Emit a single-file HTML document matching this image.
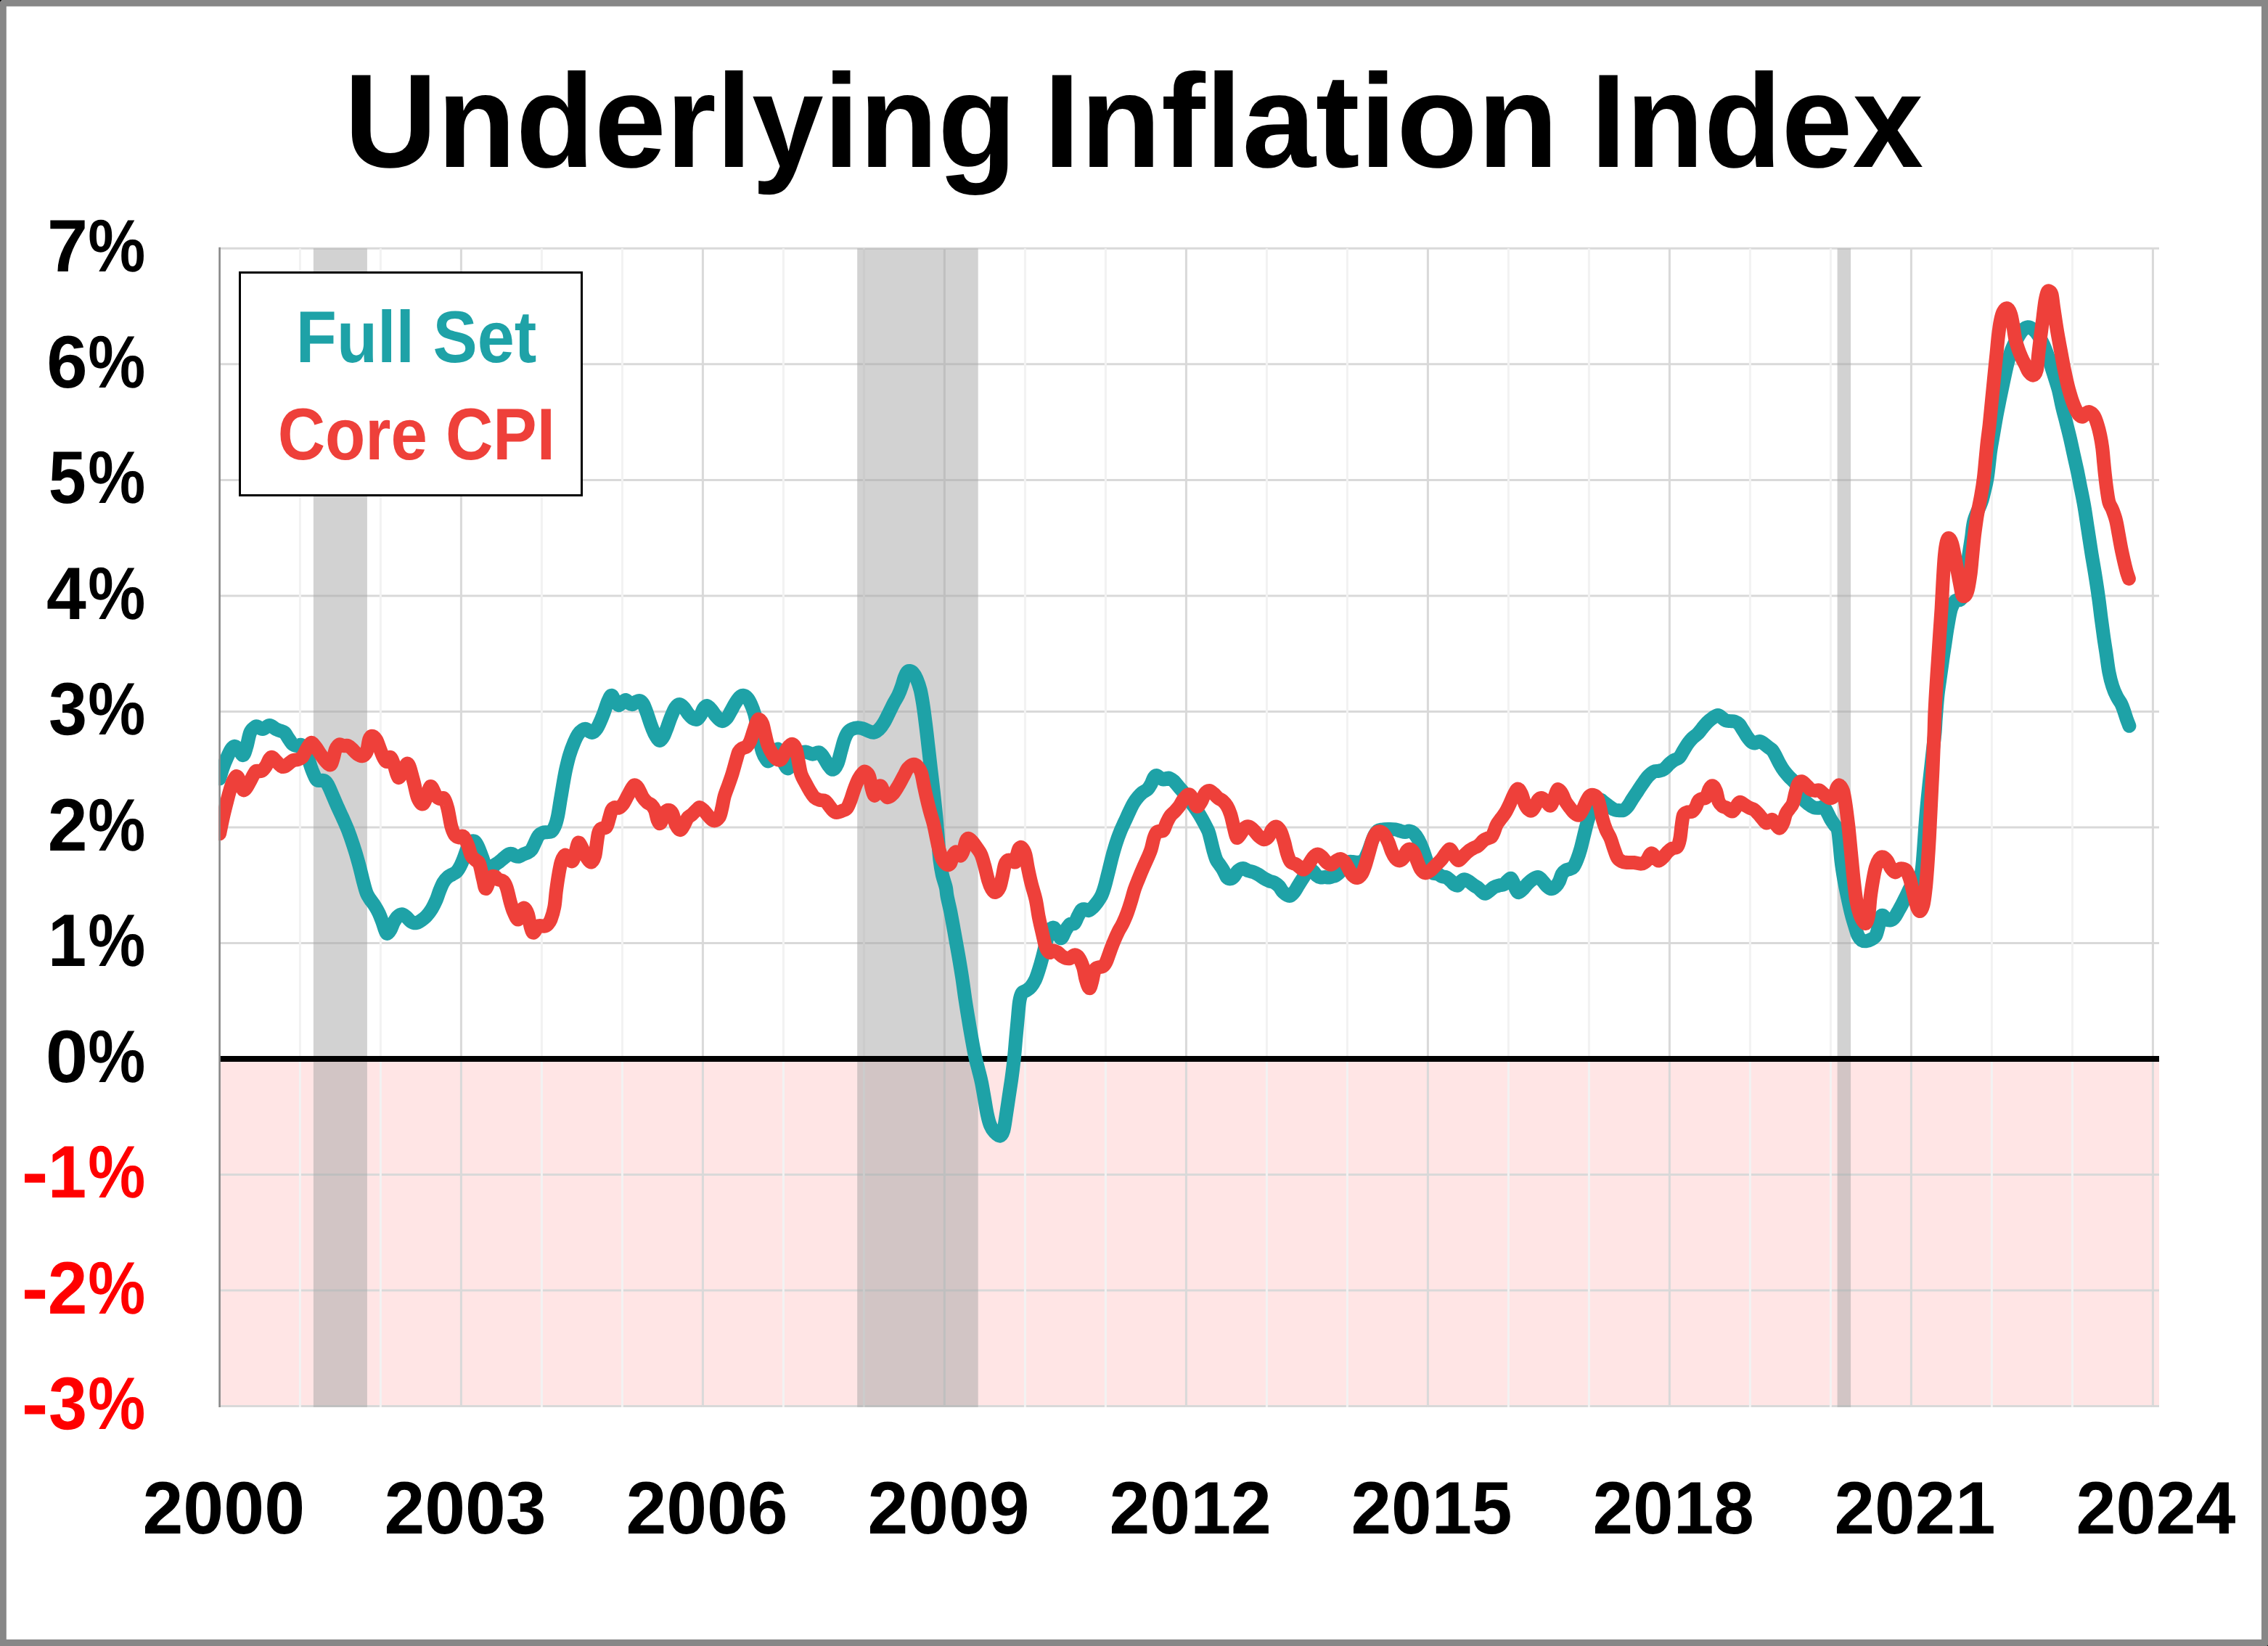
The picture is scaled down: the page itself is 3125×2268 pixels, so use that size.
<!DOCTYPE html>
<html><head><meta charset="utf-8"><title>Underlying Inflation Index</title>
<style>html,body{margin:0;padding:0;background:#fff}body{width:3125px;height:2268px;overflow:hidden;position:relative}svg{position:absolute;left:0;top:0;display:block}text{font-family:"Liberation Sans",sans-serif;font-weight:bold;font-kerning:none;text-rendering:geometricPrecision}</style></head><body>
<svg width="3125" height="2268" viewBox="0 0 3125 2268">
<rect x="0" y="0" width="3125" height="2268" fill="#878787"/>
<rect x="8.8" y="8.8" width="3107.2" height="2250.2" fill="#fff"/>
<path d="M0 0h2.4L0 2.4zM3125 2268h-1.4L3125 2266.6z" fill="#000"/>
<rect x="302.4" y="1458.9" width="2672.6" height="478.5" fill="#FFE5E5"/>
<g stroke-width="3" fill="none"><line x1="302.4" y1="1937.4" x2="2975.0" y2="1937.4" stroke="#D9D9D9"/><line x1="302.4" y1="1777.9" x2="2975.0" y2="1777.9" stroke="#D9D9D9"/><line x1="302.4" y1="1618.4" x2="2975.0" y2="1618.4" stroke="#D9D9D9"/><line x1="302.4" y1="1299.4" x2="2975.0" y2="1299.4" stroke="#D9D9D9"/><line x1="302.4" y1="1139.9" x2="2975.0" y2="1139.9" stroke="#D9D9D9"/><line x1="302.4" y1="980.4" x2="2975.0" y2="980.4" stroke="#D9D9D9"/><line x1="302.4" y1="820.9" x2="2975.0" y2="820.9" stroke="#D9D9D9"/><line x1="302.4" y1="661.4" x2="2975.0" y2="661.4" stroke="#D9D9D9"/><line x1="302.4" y1="501.8" x2="2975.0" y2="501.8" stroke="#D9D9D9"/><line x1="302.4" y1="342.3" x2="2975.0" y2="342.3" stroke="#D9D9D9"/><line x1="413.4" y1="342.3" x2="413.4" y2="1938.9" stroke="#F2F2F2"/><line x1="524.4" y1="342.3" x2="524.4" y2="1938.9" stroke="#F2F2F2"/><line x1="635.4" y1="342.3" x2="635.4" y2="1938.9" stroke="#D9D9D9"/><line x1="746.4" y1="342.3" x2="746.4" y2="1938.9" stroke="#F2F2F2"/><line x1="857.4" y1="342.3" x2="857.4" y2="1938.9" stroke="#F2F2F2"/><line x1="968.4" y1="342.3" x2="968.4" y2="1938.9" stroke="#D9D9D9"/><line x1="1079.4" y1="342.3" x2="1079.4" y2="1938.9" stroke="#F2F2F2"/><line x1="1190.4" y1="342.3" x2="1190.4" y2="1938.9" stroke="#F2F2F2"/><line x1="1301.4" y1="342.3" x2="1301.4" y2="1938.9" stroke="#D9D9D9"/><line x1="1412.4" y1="342.3" x2="1412.4" y2="1938.9" stroke="#F2F2F2"/><line x1="1523.4" y1="342.3" x2="1523.4" y2="1938.9" stroke="#F2F2F2"/><line x1="1634.4" y1="342.3" x2="1634.4" y2="1938.9" stroke="#D9D9D9"/><line x1="1745.4" y1="342.3" x2="1745.4" y2="1938.9" stroke="#F2F2F2"/><line x1="1856.4" y1="342.3" x2="1856.4" y2="1938.9" stroke="#F2F2F2"/><line x1="1967.4" y1="342.3" x2="1967.4" y2="1938.9" stroke="#D9D9D9"/><line x1="2078.4" y1="342.3" x2="2078.4" y2="1938.9" stroke="#F2F2F2"/><line x1="2189.4" y1="342.3" x2="2189.4" y2="1938.9" stroke="#F2F2F2"/><line x1="2300.4" y1="342.3" x2="2300.4" y2="1938.9" stroke="#D9D9D9"/><line x1="2411.4" y1="342.3" x2="2411.4" y2="1938.9" stroke="#F2F2F2"/><line x1="2522.4" y1="342.3" x2="2522.4" y2="1938.9" stroke="#F2F2F2"/><line x1="2633.4" y1="342.3" x2="2633.4" y2="1938.9" stroke="#D9D9D9"/><line x1="2744.4" y1="342.3" x2="2744.4" y2="1938.9" stroke="#F2F2F2"/><line x1="2855.4" y1="342.3" x2="2855.4" y2="1938.9" stroke="#F2F2F2"/><line x1="2966.4" y1="342.3" x2="2966.4" y2="1938.9" stroke="#D9D9D9"/></g>
<rect x="431.9" y="342.3" width="74.0" height="1596.6" fill="#A6A6A6" fill-opacity="0.5"/>
<rect x="1181.2" y="342.3" width="166.5" height="1596.6" fill="#A6A6A6" fill-opacity="0.5"/>
<rect x="2531.6" y="342.3" width="18.5" height="1596.6" fill="#A6A6A6" fill-opacity="0.5"/>
<rect x="303" y="1455" width="2672.0" height="8" fill="#000"/>
<clipPath id="pc"><rect x="301.2" y="322.3" width="2712.6" height="1635.1"/></clipPath>
<g clip-path="url(#pc)" fill="none" stroke-width="19.0" stroke-linecap="round" stroke-linejoin="round">
<path d="M302.6 1072.8C303.4 1070.1 305.7 1061.8 307.4 1057.0C309.1 1052.2 311.0 1047.9 312.8 1043.9C314.6 1039.8 316.6 1035.3 318.3 1032.7C320.1 1030.1 321.5 1028.4 323.3 1028.3C325.1 1028.3 326.9 1030.4 328.9 1032.4C330.8 1034.5 333.1 1041.1 335.0 1040.5C336.8 1039.9 338.2 1034.0 339.8 1028.8C341.4 1023.6 342.9 1013.8 344.7 1009.4C346.5 1004.9 349.1 1003.5 350.8 1002.1C352.4 1000.6 352.6 1000.4 354.4 1000.9C356.2 1001.3 358.9 1004.7 361.7 1004.5C364.5 1004.3 368.4 999.6 371.4 999.6C374.4 999.6 377.5 1003.3 379.9 1004.5C382.3 1005.7 384.0 1006.1 386.0 1006.9C388.0 1007.7 390.2 1007.7 392.1 1009.4C393.9 1011.0 395.1 1014.0 396.9 1016.6C398.7 1019.3 401.0 1023.3 403.0 1025.2C405.0 1027.0 407.1 1027.4 409.1 1027.6C411.1 1027.8 413.3 1025.6 415.2 1026.4C417.0 1027.2 418.4 1029.2 420.0 1032.4C421.6 1035.7 423.3 1041.2 424.9 1045.8C426.5 1050.5 427.9 1055.7 429.7 1060.4C431.6 1065.0 434.0 1071.2 435.8 1073.8C437.6 1076.3 438.8 1075.2 440.7 1075.5C442.5 1075.7 444.9 1074.5 446.7 1075.5C448.6 1076.4 449.8 1077.9 451.6 1081.0C453.4 1084.2 455.5 1089.3 457.7 1094.4C459.9 1099.5 462.5 1106.0 465.0 1111.4C467.4 1116.9 469.8 1121.7 472.3 1127.2C474.7 1132.7 477.1 1138.0 479.6 1144.2C482.0 1150.5 484.4 1157.4 486.8 1164.9C489.3 1172.4 491.9 1181.1 494.1 1189.2C496.4 1197.3 498.4 1206.6 500.2 1213.5C502.0 1220.4 503.4 1226.2 505.1 1230.5C506.7 1234.8 508.1 1236.2 509.9 1239.0C511.7 1241.8 514.0 1244.3 516.0 1247.5C518.0 1250.7 520.3 1254.6 522.1 1258.4C523.9 1262.3 525.5 1266.7 526.9 1270.6C528.4 1274.4 529.4 1278.9 530.6 1281.5C531.7 1284.2 532.5 1286.4 533.7 1286.4C535.0 1286.4 536.4 1284.2 537.9 1281.5C539.4 1278.9 541.1 1273.6 542.7 1270.6C544.4 1267.6 545.8 1265.1 547.6 1263.3C549.4 1261.5 551.6 1259.7 553.7 1259.7C555.7 1259.7 557.7 1261.7 559.7 1263.3C561.8 1264.9 563.6 1268.0 565.8 1269.4C568.0 1270.8 570.7 1272.0 573.1 1271.8C575.5 1271.6 578.0 1269.8 580.4 1268.2C582.8 1266.5 585.3 1264.7 587.7 1262.1C590.1 1259.5 592.8 1256.0 595.0 1252.4C597.2 1248.7 599.2 1244.5 601.1 1240.2C602.9 1236.0 604.3 1230.9 605.9 1226.9C607.5 1222.8 609.0 1219.0 610.8 1215.9C612.6 1212.9 614.8 1210.4 616.9 1208.6C618.9 1206.8 620.9 1206.2 622.9 1205.0C625.0 1203.8 627.2 1203.2 629.0 1201.3C630.8 1199.5 632.2 1197.1 633.9 1194.0C635.5 1191.0 637.1 1187.2 638.7 1183.1C640.3 1179.1 642.0 1173.4 643.6 1169.7C645.2 1166.1 647.0 1163.1 648.4 1161.2C649.9 1159.4 650.9 1158.8 652.1 1158.8C653.3 1158.8 654.3 1159.2 655.7 1161.2C657.2 1163.3 659.0 1167.1 660.6 1171.0C662.2 1174.8 664.0 1180.1 665.5 1184.3C666.9 1188.6 667.9 1193.8 669.1 1196.5C670.3 1199.1 671.1 1200.1 672.7 1200.1C674.4 1200.1 677.6 1197.7 678.8 1196.5C680.0 1195.3 678.6 1194.2 680.0 1192.8C681.4 1191.4 684.9 1189.8 687.3 1188.0C689.7 1186.1 692.4 1183.7 694.6 1181.9C696.8 1180.1 698.8 1177.9 700.7 1177.0C702.5 1176.1 703.9 1176.1 705.5 1176.5C707.1 1177.0 708.8 1178.9 710.4 1179.5C712.0 1180.1 713.4 1180.6 715.2 1180.2C717.1 1179.8 719.3 1178.0 721.3 1177.0C723.3 1176.1 725.6 1175.6 727.4 1174.6C729.2 1173.6 730.6 1173.2 732.2 1171.0C733.9 1168.7 735.5 1164.5 737.1 1161.2C738.7 1158.0 740.1 1153.8 742.0 1151.5C743.8 1149.2 746.0 1148.2 748.0 1147.4C750.1 1146.6 752.1 1147.0 754.1 1146.7C756.1 1146.3 758.4 1147.1 760.2 1145.4C762.0 1143.8 763.6 1140.6 765.1 1136.9C766.5 1133.3 767.5 1129.4 768.7 1123.6C769.9 1117.7 771.1 1109.0 772.3 1101.7C773.6 1094.4 774.8 1086.7 776.0 1079.8C777.2 1072.9 778.2 1066.9 779.6 1060.4C781.1 1053.9 782.7 1047.0 784.5 1040.9C786.3 1034.9 788.5 1028.8 790.6 1023.9C792.6 1019.1 794.6 1014.8 796.6 1011.8C798.7 1008.7 800.9 1006.9 802.7 1005.7C804.5 1004.5 806.0 1004.1 807.6 1004.5C809.2 1004.9 811.0 1007.3 812.4 1008.1C813.9 1009.0 814.7 1009.8 816.1 1009.4C817.5 1009.0 819.3 1007.7 820.9 1005.7C822.6 1003.7 824.0 1001.1 825.8 997.2C827.6 993.4 829.9 987.9 831.9 982.6C833.9 977.4 836.1 969.7 838.0 965.6C839.8 961.6 841.2 958.1 842.8 958.3C844.4 958.5 846.1 964.6 847.7 966.8C849.3 969.1 850.9 971.5 852.5 971.7C854.2 971.9 855.8 969.3 857.4 968.0C859.0 966.8 860.6 964.2 862.3 964.4C863.9 964.6 865.5 968.2 867.1 969.3C868.7 970.3 870.4 970.9 872.0 970.5C873.6 970.1 875.2 967.6 876.8 966.8C878.5 966.0 880.1 965.0 881.7 965.6C883.3 966.2 884.9 967.6 886.6 970.5C888.2 973.3 889.8 978.2 891.4 982.6C893.0 987.1 894.7 992.8 896.3 997.2C897.9 1001.7 899.5 1005.9 901.1 1009.4C902.8 1012.8 904.6 1016.0 906.0 1017.9C907.4 1019.7 908.2 1020.9 909.6 1020.3C911.1 1019.7 912.9 1017.3 914.5 1014.2C916.1 1011.2 917.7 1006.3 919.4 1002.1C921.0 997.8 922.4 993.2 924.2 988.7C926.1 984.2 928.3 978.4 930.3 975.3C932.3 972.3 934.4 970.5 936.4 970.5C938.4 970.5 940.4 973.1 942.5 975.3C944.5 977.6 946.5 981.4 948.5 983.8C950.6 986.3 952.6 988.7 954.6 989.9C956.6 991.1 958.9 991.9 960.7 991.1C962.5 990.3 964.1 987.5 965.5 985.1C967.0 982.6 967.8 978.7 969.2 976.5C970.6 974.4 972.2 972.2 974.0 972.4C975.9 972.6 978.1 975.5 980.1 977.8C982.1 980.1 984.2 983.8 986.2 986.3C988.2 988.7 990.7 991.1 992.3 992.3C993.9 993.6 994.3 994.2 995.9 993.6C997.5 993.0 1000.2 990.9 1002.0 988.7C1003.8 986.5 1005.0 983.4 1006.9 980.2C1008.7 977.0 1010.9 972.5 1012.9 969.3C1015.0 966.0 1017.2 962.6 1019.0 960.8C1020.8 958.9 1022.0 958.1 1023.9 958.3C1025.7 958.5 1028.1 959.9 1029.9 962.0C1031.8 964.0 1033.2 966.8 1034.8 970.5C1036.4 974.1 1038.2 978.6 1039.7 983.8C1041.1 989.1 1042.1 995.8 1043.3 1002.1C1044.5 1008.3 1045.7 1015.8 1047.0 1021.5C1048.2 1027.2 1049.2 1032.0 1050.6 1036.1C1052.0 1040.1 1054.0 1043.7 1055.5 1045.8C1056.9 1047.9 1057.5 1049.3 1059.1 1048.7C1060.7 1048.1 1063.4 1044.5 1065.2 1042.2C1067.0 1039.9 1068.8 1036.4 1070.0 1034.9C1071.2 1033.4 1071.0 1031.0 1072.4 1033.1C1073.8 1035.2 1076.5 1043.4 1078.5 1047.7C1080.5 1051.9 1082.6 1057.6 1084.6 1058.6C1086.6 1059.6 1088.6 1056.4 1090.7 1053.8C1092.7 1051.1 1094.9 1045.5 1096.7 1042.8C1098.6 1040.2 1099.4 1039.1 1101.6 1038.0C1103.8 1036.8 1107.1 1035.8 1110.1 1036.0C1113.1 1036.2 1116.8 1039.1 1119.8 1039.2C1122.9 1039.3 1125.9 1036.1 1128.3 1036.7C1130.8 1037.4 1132.2 1039.8 1134.4 1042.8C1136.6 1045.9 1139.5 1052.1 1141.7 1055.0C1143.9 1057.9 1145.7 1060.7 1147.8 1060.3C1149.8 1059.9 1152.0 1056.7 1153.8 1052.5C1155.7 1048.4 1157.1 1041.2 1158.7 1035.5C1160.3 1029.9 1161.9 1023.0 1163.6 1018.5C1165.2 1014.1 1166.6 1011.1 1168.4 1008.8C1170.2 1006.4 1172.3 1005.4 1174.5 1004.4C1176.7 1003.4 1179.4 1002.8 1181.8 1002.7C1184.2 1002.6 1186.6 1003.2 1189.1 1003.9C1191.5 1004.7 1193.9 1006.2 1196.4 1007.1C1198.8 1008.0 1201.2 1009.6 1203.7 1009.3C1206.1 1009.0 1208.5 1007.5 1210.9 1005.2C1213.4 1002.8 1215.8 999.5 1218.2 995.4C1220.7 991.4 1223.3 985.3 1225.5 980.9C1227.8 976.4 1229.6 972.5 1231.6 968.7C1233.6 964.9 1235.9 961.6 1237.7 957.8C1239.5 953.9 1241.1 949.7 1242.5 945.6C1244.0 941.6 1245.0 936.7 1246.2 933.5C1247.4 930.2 1248.6 927.7 1249.8 926.2C1251.0 924.7 1252.1 924.3 1253.5 924.5C1254.9 924.7 1256.7 925.5 1258.3 927.4C1260.0 929.3 1261.6 932.0 1263.2 935.9C1264.8 939.7 1266.6 944.8 1268.1 950.5C1269.5 956.1 1270.5 962.2 1271.7 969.9C1272.9 977.6 1274.1 986.9 1275.3 996.6C1276.6 1006.4 1277.8 1017.7 1279.0 1028.2C1280.2 1038.8 1281.4 1049.3 1282.6 1059.8C1283.9 1070.4 1285.1 1080.5 1286.3 1091.4C1287.5 1102.4 1288.9 1114.9 1289.9 1125.4C1290.9 1136.0 1291.5 1144.9 1292.4 1154.6C1293.2 1164.3 1293.8 1175.3 1294.8 1183.8C1295.8 1192.3 1297.0 1199.2 1298.4 1205.6C1299.9 1212.1 1302.2 1217.8 1303.3 1222.6C1304.4 1227.5 1303.9 1228.9 1305.0 1234.6C1306.0 1240.2 1308.2 1248.4 1309.8 1256.5C1311.4 1264.6 1312.9 1273.1 1314.7 1283.2C1316.5 1293.3 1318.9 1306.7 1320.8 1317.2C1322.6 1327.7 1324.1 1336.6 1325.6 1346.4C1327.1 1356.1 1328.3 1365.8 1329.7 1375.5C1331.2 1385.2 1332.8 1395.4 1334.4 1404.7C1335.9 1414.0 1337.4 1422.9 1339.0 1431.4C1340.5 1439.9 1342.0 1448.4 1343.6 1455.7C1345.2 1463.0 1347.0 1469.1 1348.5 1475.2C1350.0 1481.2 1351.3 1485.7 1352.6 1492.2C1353.9 1498.7 1355.2 1506.8 1356.5 1514.0C1357.8 1521.3 1359.0 1529.8 1360.4 1535.9C1361.7 1542.0 1362.8 1546.4 1364.5 1550.5C1366.2 1554.5 1368.3 1557.8 1370.6 1560.2C1372.8 1562.6 1375.8 1565.5 1377.9 1565.1C1379.9 1564.7 1381.3 1562.6 1382.7 1557.8C1384.1 1552.9 1385.2 1543.6 1386.4 1535.9C1387.6 1528.2 1388.8 1519.7 1390.0 1511.6C1391.2 1503.5 1392.4 1496.2 1393.7 1487.3C1394.9 1478.4 1396.3 1467.5 1397.3 1458.2C1398.3 1448.8 1398.9 1440.3 1399.7 1431.4C1400.5 1422.5 1401.4 1413.2 1402.2 1404.7C1403.0 1396.2 1403.6 1386.5 1404.6 1380.4C1405.6 1374.3 1406.6 1370.9 1408.2 1368.2C1409.9 1365.6 1412.3 1366.0 1414.3 1364.6C1416.3 1363.2 1418.4 1362.2 1420.4 1359.7C1422.4 1357.3 1424.6 1353.9 1426.5 1350.0C1428.3 1346.2 1429.7 1341.7 1431.3 1336.6C1432.9 1331.6 1434.6 1325.7 1436.2 1319.6C1437.8 1313.6 1439.6 1305.9 1441.0 1300.2C1442.5 1294.5 1443.5 1289.1 1444.7 1285.6C1445.9 1282.2 1447.1 1280.8 1448.3 1279.5C1449.6 1278.3 1450.6 1277.5 1452.0 1278.3C1453.4 1279.1 1455.1 1282.0 1456.8 1284.4C1458.5 1286.8 1460.3 1293.2 1462.2 1292.8C1464.0 1292.4 1466.2 1285.1 1468.2 1281.9C1470.3 1278.7 1472.3 1275.0 1474.3 1273.4C1476.3 1271.8 1478.6 1274.0 1480.4 1272.2C1482.2 1270.4 1483.6 1265.5 1485.2 1262.5C1486.9 1259.4 1488.7 1255.6 1490.1 1253.9C1491.5 1252.3 1492.1 1252.6 1493.7 1252.7C1495.4 1252.9 1497.8 1255.1 1499.8 1254.7C1501.8 1254.3 1503.9 1252.2 1505.9 1250.3C1507.9 1248.4 1509.9 1245.8 1512.0 1243.0C1514.0 1240.2 1516.2 1237.3 1518.0 1233.3C1519.9 1229.2 1521.3 1224.4 1522.9 1218.7C1524.5 1213.0 1526.1 1205.8 1527.8 1199.3C1529.4 1192.8 1531.0 1185.9 1532.6 1179.8C1534.2 1173.8 1535.7 1168.5 1537.5 1162.8C1539.3 1157.1 1541.5 1150.9 1543.6 1145.8C1545.6 1140.7 1547.6 1136.9 1549.6 1132.4C1551.7 1128.0 1553.7 1123.3 1555.7 1119.1C1557.7 1114.8 1559.8 1110.4 1561.8 1106.9C1563.8 1103.5 1565.8 1100.9 1567.9 1098.4C1569.9 1096.0 1571.7 1094.2 1573.9 1092.3C1576.2 1090.5 1579.2 1089.5 1581.2 1087.5C1583.3 1085.5 1584.7 1082.8 1586.1 1080.2C1587.5 1077.6 1588.5 1073.6 1589.7 1071.7C1590.9 1069.7 1592.0 1068.5 1593.4 1068.5C1594.8 1068.5 1596.6 1070.8 1598.2 1071.7C1599.9 1072.6 1601.5 1074.0 1603.1 1074.1C1604.7 1074.2 1606.5 1072.7 1608.0 1072.4C1609.4 1072.1 1610.0 1071.7 1611.6 1072.4C1613.2 1073.1 1615.7 1074.6 1617.7 1076.5C1619.7 1078.5 1621.5 1081.2 1623.8 1083.8C1626.0 1086.5 1628.6 1089.3 1631.0 1092.3C1633.5 1095.4 1635.9 1098.8 1638.3 1102.1C1640.8 1105.3 1643.2 1108.3 1645.6 1111.8C1648.1 1115.2 1650.7 1119.1 1652.9 1122.7C1655.1 1126.4 1657.0 1129.8 1659.0 1133.7C1661.0 1137.5 1663.4 1141.6 1665.1 1145.8C1666.7 1150.1 1667.5 1154.5 1668.7 1159.2C1669.9 1163.8 1671.1 1169.5 1672.4 1173.8C1673.6 1178.0 1674.6 1181.7 1676.0 1184.7C1677.4 1187.7 1679.2 1189.6 1680.9 1192.0C1682.5 1194.4 1684.1 1196.4 1685.7 1199.3C1687.3 1202.1 1689.0 1207.0 1690.6 1209.0C1692.2 1210.9 1693.8 1211.1 1695.4 1210.9C1697.1 1210.7 1698.7 1209.5 1700.3 1207.8C1701.9 1206.0 1703.1 1202.4 1705.2 1200.5C1707.2 1198.6 1710.0 1196.5 1712.5 1196.4C1714.9 1196.2 1717.3 1198.9 1719.7 1199.8C1722.2 1200.6 1724.6 1200.8 1727.0 1201.7C1729.5 1202.6 1731.9 1203.9 1734.3 1205.3C1736.8 1206.8 1739.2 1208.8 1741.6 1210.2C1744.0 1211.6 1746.5 1212.8 1748.9 1213.9C1751.3 1214.9 1754.0 1215.1 1756.2 1216.3C1758.4 1217.5 1760.2 1218.9 1762.3 1221.1C1764.3 1223.4 1765.9 1227.4 1768.3 1229.6C1770.8 1231.9 1774.4 1234.5 1776.9 1234.5C1779.3 1234.5 1780.9 1232.1 1782.9 1229.6C1785.0 1227.2 1787.0 1223.2 1789.0 1219.9C1791.0 1216.7 1793.1 1213.2 1795.1 1210.2C1797.1 1207.2 1799.1 1203.6 1801.2 1201.7C1803.2 1199.8 1805.0 1198.0 1807.2 1198.8C1809.5 1199.6 1812.5 1204.9 1814.5 1206.6C1816.5 1208.3 1817.6 1208.7 1819.4 1209.0C1821.2 1209.3 1823.4 1208.5 1825.5 1208.5C1827.5 1208.5 1829.3 1209.3 1831.5 1209.0C1833.8 1208.7 1837.4 1207.0 1838.8 1206.6C1840.2 1206.2 1838.8 1207.4 1840.0 1206.6C1841.2 1205.8 1844.1 1204.1 1846.1 1201.7C1848.1 1199.3 1850.1 1194.3 1852.2 1192.0C1854.2 1189.6 1856.2 1188.3 1858.2 1187.6C1860.3 1186.9 1862.1 1187.5 1864.3 1187.6C1866.5 1187.7 1869.2 1188.3 1871.6 1188.1C1874.0 1187.9 1876.4 1189.0 1878.6 1186.6C1880.9 1184.3 1883.1 1178.3 1885.0 1174.0C1886.8 1169.7 1888.3 1164.8 1889.8 1160.9C1891.3 1157.0 1892.5 1153.3 1893.9 1150.7C1895.4 1148.0 1896.6 1146.1 1898.3 1144.8C1900.0 1143.6 1901.7 1143.5 1904.2 1143.1C1906.6 1142.8 1909.8 1142.7 1912.9 1142.6C1916.0 1142.6 1919.8 1142.5 1922.6 1142.9C1925.5 1143.3 1927.7 1144.5 1929.9 1145.1C1932.1 1145.7 1934.0 1146.5 1936.0 1146.5C1938.0 1146.5 1940.0 1144.8 1942.1 1145.1C1944.1 1145.4 1946.1 1146.3 1948.1 1148.2C1950.2 1150.2 1952.2 1153.1 1954.2 1156.7C1956.2 1160.4 1958.5 1165.5 1960.3 1170.1C1962.1 1174.8 1963.5 1180.2 1965.2 1184.7C1966.8 1189.1 1968.6 1193.8 1970.0 1196.8C1971.4 1199.9 1971.8 1201.7 1973.7 1202.9C1975.5 1204.1 1978.7 1203.3 1980.9 1204.1C1983.2 1204.9 1985.0 1207.0 1987.0 1207.8C1989.0 1208.6 1991.1 1208.0 1993.1 1209.0C1995.1 1210.0 1997.4 1212.2 1999.2 1213.9C2001.0 1215.5 2002.4 1217.7 2004.0 1218.7C2005.7 1219.7 2007.3 1220.7 2008.9 1219.9C2010.5 1219.1 2012.1 1215.2 2013.8 1213.9C2015.4 1212.5 2016.8 1211.7 2018.6 1211.9C2020.4 1212.1 2022.7 1213.7 2024.7 1215.1C2026.7 1216.4 2028.7 1218.5 2030.8 1219.9C2032.8 1221.3 2035.0 1222.2 2036.8 1223.6C2038.7 1225.0 2040.1 1227.1 2041.7 1228.4C2043.3 1229.7 2044.7 1231.6 2046.6 1231.3C2048.4 1231.1 2050.6 1228.7 2052.6 1227.2C2054.7 1225.7 2056.5 1223.6 2058.7 1222.4C2060.9 1221.1 2063.8 1220.5 2066.0 1219.9C2068.2 1219.3 2070.3 1219.7 2072.1 1218.7C2073.9 1217.7 2075.3 1215.3 2076.9 1213.9C2078.6 1212.4 2080.4 1209.8 2081.8 1210.2C2083.2 1210.6 2084.2 1213.6 2085.4 1216.3C2086.7 1218.9 2087.9 1223.8 2089.1 1226.0C2090.3 1228.2 2091.1 1229.9 2092.7 1229.6C2094.4 1229.4 2096.8 1226.8 2098.8 1224.8C2100.8 1222.8 2102.7 1219.7 2104.9 1217.5C2107.1 1215.3 2109.7 1212.9 2112.2 1211.4C2114.6 1209.9 2117.2 1208.1 2119.5 1208.5C2121.7 1208.9 2123.5 1211.7 2125.5 1213.9C2127.6 1216.0 2129.6 1219.3 2131.6 1221.1C2133.6 1223.0 2135.7 1224.8 2137.7 1224.8C2139.7 1224.8 2141.9 1223.0 2143.8 1221.1C2145.6 1219.3 2147.2 1216.7 2148.6 1213.9C2150.0 1211.0 2150.9 1206.6 2152.3 1204.1C2153.7 1201.7 2155.3 1200.4 2157.1 1199.3C2159.0 1198.1 2161.4 1198.1 2163.2 1197.3C2165.0 1196.5 2166.4 1196.5 2168.1 1194.4C2169.7 1192.3 2171.3 1188.7 2172.9 1184.7C2174.5 1180.6 2176.2 1175.8 2177.8 1170.1C2179.4 1164.4 2181.0 1157.1 2182.6 1150.7C2184.3 1144.2 2185.9 1136.9 2187.5 1131.2C2189.1 1125.6 2190.7 1120.7 2192.4 1116.6C2194.0 1112.6 2195.2 1109.4 2197.2 1106.9C2199.3 1104.5 2202.5 1102.4 2204.5 1102.1C2206.5 1101.7 2207.4 1103.6 2209.4 1105.0C2211.4 1106.4 2214.2 1108.8 2216.7 1110.6C2219.1 1112.3 2222.2 1114.5 2224.0 1115.4C2225.7 1116.4 2225.1 1116.2 2227.3 1116.4C2229.5 1116.5 2234.4 1117.3 2237.0 1116.4C2239.6 1115.4 2241.1 1113.3 2243.1 1110.8C2245.1 1108.2 2246.9 1104.5 2249.2 1101.0C2251.4 1097.6 2254.0 1093.8 2256.5 1090.1C2258.9 1086.5 2261.3 1082.6 2263.7 1079.2C2266.2 1075.7 2268.6 1072.1 2271.0 1069.5C2273.5 1066.8 2275.9 1064.6 2278.3 1063.4C2280.8 1062.2 2283.2 1062.8 2285.6 1062.2C2288.0 1061.6 2290.5 1061.4 2292.9 1059.7C2295.3 1058.1 2298.0 1054.5 2300.2 1052.4C2302.4 1050.4 2304.0 1049.0 2306.3 1047.6C2308.5 1046.2 2311.3 1046.2 2313.6 1043.9C2315.8 1041.7 2317.6 1037.5 2319.6 1034.2C2321.7 1031.0 2323.7 1027.3 2325.7 1024.5C2327.7 1021.7 2329.6 1019.4 2331.8 1017.2C2334.0 1015.0 2336.8 1013.4 2339.1 1011.1C2341.3 1008.9 2342.9 1006.5 2345.2 1003.8C2347.4 1001.2 2350.0 997.8 2352.4 995.3C2354.9 992.9 2357.3 990.9 2359.7 989.3C2362.2 987.6 2364.8 985.6 2367.0 985.6C2369.3 985.6 2371.3 988.0 2373.1 989.3C2374.9 990.5 2376.1 992.2 2378.0 992.9C2379.8 993.6 2382.0 993.4 2384.0 993.6C2386.1 993.8 2388.1 993.4 2390.1 994.1C2392.1 994.8 2394.4 995.9 2396.2 997.8C2398.0 999.6 2399.2 1002.2 2401.0 1005.1C2402.9 1007.9 2405.1 1011.9 2407.1 1014.8C2409.1 1017.6 2411.4 1020.5 2413.2 1022.1C2415.0 1023.6 2416.2 1024.1 2418.1 1024.0C2419.9 1023.9 2422.1 1021.5 2424.1 1021.6C2426.2 1021.7 2428.2 1023.2 2430.2 1024.5C2432.2 1025.8 2434.3 1027.7 2436.3 1029.4C2438.3 1031.0 2440.5 1032.0 2442.4 1034.2C2444.2 1036.4 2445.6 1039.7 2447.2 1042.7C2448.8 1045.8 2450.3 1049.2 2452.1 1052.4C2453.9 1055.7 2455.9 1059.1 2458.2 1062.2C2460.4 1065.2 2463.0 1068.0 2465.4 1070.7C2467.9 1073.3 2470.5 1075.1 2472.7 1078.0C2475.0 1080.8 2476.8 1083.8 2478.8 1087.7C2480.8 1091.5 2482.7 1097.6 2484.9 1101.0C2487.1 1104.5 2489.7 1106.4 2492.2 1108.3C2494.6 1110.3 2497.0 1111.9 2499.5 1112.7C2501.9 1113.5 2504.5 1113.3 2506.8 1113.2C2509.0 1113.1 2511.0 1111.0 2512.8 1112.0C2514.7 1113.0 2516.1 1116.4 2517.7 1119.3C2519.3 1122.1 2520.9 1126.2 2522.6 1129.0C2524.2 1131.8 2525.8 1133.9 2527.4 1136.3C2529.0 1138.7 2531.1 1139.1 2532.3 1143.6C2533.5 1148.0 2533.9 1155.7 2534.7 1163.0C2535.5 1170.3 2536.1 1179.2 2537.1 1187.3C2538.1 1195.4 2539.4 1203.5 2540.8 1211.6C2542.2 1219.7 2544.0 1228.2 2545.6 1235.9C2547.3 1243.6 2548.9 1251.3 2550.5 1257.8C2552.1 1264.3 2553.7 1269.5 2555.4 1274.8C2557.0 1280.1 2558.6 1285.9 2560.2 1289.4C2561.8 1292.8 2563.3 1294.2 2565.1 1295.5C2566.9 1296.7 2568.9 1296.9 2571.2 1296.7C2573.4 1296.5 2576.2 1295.5 2578.4 1294.2C2580.7 1293.0 2582.9 1292.2 2584.5 1289.4C2586.1 1286.5 2587.2 1281.3 2588.2 1277.2C2589.2 1273.2 2589.6 1267.7 2590.6 1265.1C2591.6 1262.4 2592.8 1261.2 2594.2 1261.4C2595.7 1261.6 2597.5 1265.2 2599.1 1266.3C2600.7 1267.4 2602.1 1268.3 2604.0 1268.0C2605.8 1267.7 2608.2 1266.5 2610.0 1264.6C2611.9 1262.7 2613.2 1259.5 2614.9 1256.6C2616.6 1253.6 2618.5 1250.4 2620.4 1246.8C2622.3 1243.1 2624.5 1238.5 2626.5 1234.6C2628.4 1230.8 2630.0 1226.7 2631.8 1223.7C2633.6 1220.6 2635.4 1218.6 2637.4 1216.4C2639.3 1214.2 2641.7 1212.9 2643.5 1210.3C2645.2 1207.7 2646.7 1207.1 2647.8 1200.6C2649.0 1194.1 2649.7 1181.5 2650.5 1171.4C2651.3 1161.3 2651.9 1150.0 2652.7 1139.8C2653.5 1129.7 2654.2 1120.4 2655.1 1110.7C2656.0 1100.9 2657.1 1090.4 2658.0 1081.5C2659.0 1072.6 2659.8 1065.3 2660.7 1057.2C2661.6 1049.1 2662.5 1041.0 2663.4 1032.9C2664.3 1024.8 2665.4 1015.9 2666.1 1008.6C2666.7 1001.3 2666.7 997.4 2667.3 989.4C2667.9 981.3 2668.8 969.1 2669.7 960.2C2670.6 951.3 2671.8 944.0 2672.9 935.9C2674.0 927.8 2675.1 919.7 2676.3 911.6C2677.4 903.5 2678.7 895.4 2679.9 887.3C2681.1 879.2 2682.1 871.1 2683.6 863.0C2685.0 854.9 2686.6 844.6 2688.4 838.7C2690.2 832.8 2692.5 829.8 2694.5 827.8C2696.5 825.8 2698.7 828.0 2700.6 826.6C2702.4 825.1 2704.0 824.5 2705.4 819.3C2706.8 814.0 2707.9 803.9 2709.1 795.0C2710.3 786.1 2711.5 774.7 2712.7 765.8C2713.9 756.9 2715.2 749.6 2716.4 741.5C2717.6 733.4 2717.8 725.3 2720.0 717.2C2722.2 709.1 2727.5 699.1 2729.7 692.9C2732.0 686.7 2732.0 685.7 2733.4 679.9C2734.8 674.1 2736.7 667.8 2738.2 658.1C2739.8 648.3 2741.2 631.7 2742.6 621.6C2744.0 611.5 2745.4 605.4 2746.7 597.3C2748.1 589.2 2749.4 581.1 2750.9 573.0C2752.4 564.9 2754.1 556.8 2755.7 548.7C2757.4 540.6 2759.1 532.5 2760.8 524.4C2762.6 516.3 2764.3 507.4 2766.2 500.1C2768.1 492.8 2770.0 486.3 2772.3 480.7C2774.5 475.0 2777.1 470.3 2779.6 466.1C2782.0 461.8 2784.4 457.7 2786.8 455.2C2789.3 452.6 2791.7 451.0 2794.1 450.8C2796.6 450.6 2799.0 452.0 2801.4 453.9C2803.9 455.9 2806.3 458.8 2808.7 462.4C2811.1 466.1 2813.6 470.3 2816.0 475.8C2818.4 481.3 2821.1 488.8 2823.3 495.2C2825.5 501.7 2827.2 507.8 2829.4 514.7C2831.5 521.6 2834.1 528.9 2836.2 536.6C2838.2 544.3 2839.7 553.2 2841.5 560.9C2843.3 568.6 2845.3 575.4 2847.1 582.7C2848.9 590.0 2850.8 597.3 2852.5 604.6C2854.2 611.9 2855.7 619.2 2857.3 626.5C2858.9 633.8 2860.6 641.1 2862.2 648.3C2863.7 655.6 2864.9 662.0 2866.5 670.2C2868.2 678.5 2870.2 687.9 2871.9 697.8C2873.6 707.6 2875.1 718.8 2876.8 729.4C2878.4 739.9 2880.0 750.8 2881.6 760.9C2883.2 771.1 2884.9 780.0 2886.5 790.1C2888.1 800.2 2889.9 811.6 2891.3 821.7C2892.8 831.8 2893.8 841.5 2895.0 850.9C2896.2 860.2 2897.4 869.1 2898.6 877.6C2899.8 886.1 2901.1 893.8 2902.3 901.9C2903.5 910.0 2904.5 918.9 2905.9 926.2C2907.3 933.5 2909.0 940.0 2910.8 945.6C2912.6 951.3 2914.8 956.2 2916.9 960.2C2918.9 964.3 2921.3 966.7 2922.9 969.9C2924.5 973.2 2925.4 976.2 2926.6 979.7C2927.8 983.1 2929.0 987.2 2930.2 990.6C2931.4 994.0 2933.3 998.7 2933.9 1000.3" stroke="#1EA2A7"/>
<path d="M302.6 1148.8C303.4 1145.0 305.7 1133.3 307.4 1125.8C309.1 1118.3 311.2 1110.2 312.8 1103.9C314.4 1097.5 315.8 1092.3 317.2 1087.6C318.7 1082.9 320.1 1078.5 321.6 1075.5C323.1 1072.5 324.8 1069.4 326.2 1069.6C327.7 1069.8 328.8 1073.5 330.3 1076.7C331.8 1079.8 333.5 1087.3 335.2 1088.6C336.9 1089.8 338.6 1086.6 340.3 1084.2C342.0 1081.9 344.1 1077.3 345.7 1074.5C347.2 1071.6 348.3 1069.2 349.5 1067.2C350.8 1065.2 351.4 1063.1 353.2 1062.3C355.0 1061.5 358.2 1063.5 360.5 1062.3C362.7 1061.2 364.7 1058.3 366.5 1055.5C368.4 1052.8 370.0 1047.8 371.4 1045.8C372.8 1043.8 373.4 1042.8 375.1 1043.4C376.7 1044.0 379.1 1047.4 381.1 1049.5C383.2 1051.5 385.4 1054.4 387.2 1055.5C389.0 1056.7 390.2 1056.9 392.1 1056.3C393.9 1055.7 396.1 1053.3 398.1 1051.9C400.2 1050.4 402.2 1048.4 404.2 1047.5C406.2 1046.6 408.3 1047.2 410.3 1046.5C412.3 1045.8 414.3 1045.7 416.4 1043.4C418.4 1041.0 420.4 1035.8 422.4 1032.4C424.5 1029.1 426.5 1024.1 428.5 1023.5C430.5 1022.8 432.4 1026.1 434.6 1028.8C436.8 1031.5 439.5 1036.3 441.9 1039.7C444.3 1043.2 446.9 1047.1 449.2 1049.5C451.4 1051.8 453.6 1054.4 455.2 1053.8C456.9 1053.2 457.7 1049.4 458.9 1045.8C460.1 1042.2 461.1 1035.8 462.5 1032.4C464.0 1029.1 465.6 1026.7 467.4 1025.9C469.2 1025.1 471.4 1027.3 473.5 1027.6C475.5 1027.9 477.5 1026.8 479.6 1027.6C481.6 1028.4 483.6 1030.6 485.6 1032.4C487.7 1034.3 489.5 1037.0 491.7 1038.5C493.9 1040.1 496.8 1042.1 499.0 1041.7C501.2 1041.3 503.4 1039.9 505.1 1036.1C506.7 1032.3 507.5 1022.7 508.7 1019.1C509.9 1015.4 510.7 1014.2 512.4 1014.2C514.0 1014.2 516.6 1016.2 518.4 1019.1C520.3 1021.9 521.7 1027.2 523.3 1031.2C524.9 1035.3 526.5 1040.3 528.2 1043.4C529.8 1046.4 531.4 1049.5 533.0 1049.5C534.6 1049.5 536.3 1042.8 537.9 1043.4C539.5 1044.0 540.9 1048.4 542.7 1053.1C544.6 1057.8 546.8 1069.7 548.8 1071.3C550.8 1072.9 552.7 1066.0 554.9 1062.8C557.1 1059.7 559.7 1050.3 562.2 1052.4C564.6 1054.4 567.2 1067.2 569.5 1075.0C571.7 1082.8 573.3 1093.8 575.5 1099.3C577.8 1104.7 580.6 1108.6 582.8 1107.8C585.1 1107.0 587.1 1098.5 588.9 1094.4C590.7 1090.4 591.7 1083.1 593.8 1083.5C595.8 1083.9 599.0 1094.0 601.1 1096.8C603.1 1099.7 604.1 1099.9 605.9 1100.5C607.7 1101.1 610.2 1098.3 612.0 1100.5C613.8 1102.7 615.2 1107.6 616.9 1113.9C618.5 1120.1 620.1 1132.1 621.7 1138.2C623.3 1144.2 624.8 1147.7 626.6 1150.3C628.4 1152.9 630.6 1153.5 632.6 1153.9C634.7 1154.4 636.7 1150.9 638.7 1152.7C640.7 1154.6 643.0 1160.4 644.8 1164.9C646.6 1169.3 647.8 1176.0 649.7 1179.5C651.5 1182.9 653.9 1183.7 655.7 1185.5C657.6 1187.4 659.0 1186.1 660.6 1190.4C662.2 1194.7 664.0 1205.4 665.5 1211.1C666.9 1216.7 667.7 1223.9 669.1 1224.4C670.5 1224.9 672.5 1216.8 674.0 1214.0C675.5 1211.2 676.7 1208.6 678.1 1207.7C679.5 1206.7 681.1 1207.4 682.5 1208.1C683.9 1208.9 684.7 1211.0 686.6 1212.0C688.4 1213.0 691.4 1212.4 693.4 1214.2C695.3 1216.1 696.6 1218.5 698.2 1223.2C699.8 1227.9 701.5 1237.0 703.1 1242.6C704.7 1248.3 706.1 1253.2 707.9 1257.2C709.8 1261.3 712.2 1267.4 714.0 1267.0C715.8 1266.5 717.5 1257.4 718.9 1254.8C720.3 1252.2 721.1 1250.3 722.5 1251.2C723.9 1252.0 726.0 1255.4 727.4 1259.7C728.8 1263.9 729.8 1272.4 731.0 1276.7C732.2 1280.9 733.3 1284.8 734.7 1285.2C736.1 1285.6 738.1 1280.7 739.5 1279.1C741.0 1277.5 741.6 1275.9 743.2 1275.5C744.8 1275.0 747.4 1276.4 749.3 1276.2C751.1 1276.0 752.5 1275.8 754.1 1274.2C755.7 1272.7 757.4 1271.0 759.0 1267.0C760.6 1262.9 762.6 1256.4 763.8 1249.9C765.1 1243.5 765.3 1235.8 766.3 1228.1C767.3 1220.4 768.7 1210.7 769.9 1203.8C771.1 1196.9 772.1 1191.0 773.6 1186.8C775.0 1182.5 776.8 1178.9 778.4 1178.3C780.0 1177.6 781.7 1181.7 783.3 1183.1C784.9 1184.5 786.7 1187.4 788.1 1186.8C789.6 1186.1 790.6 1183.1 791.8 1179.5C793.0 1175.8 794.4 1167.9 795.4 1164.9C796.4 1161.8 796.6 1160.4 797.9 1161.2C799.1 1162.0 800.9 1166.3 802.7 1169.7C804.5 1173.2 806.8 1178.9 808.8 1181.9C810.8 1184.9 813.0 1188.4 814.9 1188.0C816.7 1187.6 818.5 1183.7 819.7 1179.5C820.9 1175.2 821.4 1167.7 822.2 1162.5C823.0 1157.2 823.6 1151.3 824.6 1147.9C825.6 1144.4 826.4 1143.2 828.2 1141.8C830.1 1140.4 833.7 1141.6 835.5 1139.4C837.4 1137.1 838.0 1132.3 839.2 1128.4C840.4 1124.6 841.6 1118.9 842.8 1116.3C844.0 1113.6 844.8 1113.2 846.5 1112.6C848.1 1112.1 850.5 1113.9 852.5 1113.1C854.6 1112.3 856.6 1110.5 858.6 1107.8C860.6 1105.1 862.7 1100.5 864.7 1096.8C866.7 1093.2 869.1 1088.4 870.8 1085.9C872.4 1083.4 873.0 1081.8 874.4 1081.8C875.8 1081.8 877.4 1083.2 879.3 1085.9C881.1 1088.6 883.3 1094.8 885.3 1098.1C887.4 1101.3 889.4 1103.5 891.4 1105.3C893.4 1107.2 895.7 1107.2 897.5 1109.0C899.3 1110.8 900.9 1112.8 902.4 1116.3C903.8 1119.7 904.8 1126.6 906.0 1129.6C907.2 1132.7 908.4 1134.9 909.6 1134.5C910.9 1134.1 912.1 1129.9 913.3 1127.2C914.5 1124.6 915.5 1120.5 916.9 1118.7C918.4 1116.9 920.2 1115.9 921.8 1116.3C923.4 1116.7 925.0 1117.7 926.7 1121.1C928.3 1124.6 929.8 1133.2 931.5 1136.9C933.3 1140.7 935.3 1143.7 937.1 1143.7C938.9 1143.7 940.8 1139.7 942.5 1136.9C944.2 1134.2 945.5 1129.6 947.3 1127.2C949.1 1124.8 951.4 1124.2 953.4 1122.4C955.4 1120.5 957.6 1117.9 959.5 1116.3C961.3 1114.7 962.5 1112.4 964.3 1112.6C966.1 1112.8 968.4 1115.5 970.4 1117.5C972.4 1119.5 974.2 1122.6 976.5 1124.8C978.7 1127.0 981.3 1130.7 983.8 1130.9C986.2 1131.1 989.2 1128.8 991.1 1126.0C992.9 1123.2 993.5 1118.7 994.7 1113.9C995.9 1109.0 996.7 1102.5 998.3 1096.8C1000.0 1091.2 1002.6 1085.1 1004.4 1079.8C1006.2 1074.6 1007.7 1070.5 1009.3 1065.2C1010.9 1060.0 1012.7 1053.1 1014.1 1048.2C1015.6 1043.4 1016.4 1038.9 1017.8 1036.1C1019.2 1033.3 1020.8 1032.4 1022.6 1031.2C1024.5 1030.0 1026.9 1030.4 1028.7 1028.8C1030.5 1027.2 1032.0 1025.2 1033.6 1021.5C1035.2 1017.9 1037.0 1011.2 1038.4 1006.9C1039.9 1002.7 1040.9 998.6 1042.1 996.0C1043.3 993.4 1044.3 990.9 1045.7 991.1C1047.2 991.3 1049.2 993.8 1050.6 997.2C1052.0 1000.6 1053.0 1006.9 1054.2 1011.8C1055.5 1016.6 1056.3 1021.9 1057.9 1026.4C1059.5 1030.8 1061.9 1035.3 1064.0 1038.5C1066.0 1041.8 1068.0 1044.5 1070.0 1045.8C1072.1 1047.1 1074.1 1048.2 1076.1 1046.5C1078.1 1044.8 1080.3 1038.6 1082.2 1035.5C1084.0 1032.5 1085.4 1029.9 1087.0 1028.2C1088.6 1026.5 1090.3 1024.7 1091.9 1025.3C1093.5 1025.9 1095.3 1027.8 1096.7 1031.9C1098.1 1036.0 1099.2 1044.2 1100.4 1050.1C1101.6 1056.0 1102.4 1062.3 1104.0 1067.1C1105.6 1072.0 1108.1 1075.4 1110.1 1079.3C1112.1 1083.1 1114.1 1087.0 1116.2 1090.2C1118.2 1093.4 1120.0 1096.7 1122.2 1098.7C1124.5 1100.7 1127.1 1101.5 1129.5 1102.4C1132.0 1103.2 1134.6 1102.2 1136.8 1103.6C1139.1 1105.0 1141.1 1108.6 1142.9 1110.9C1144.7 1113.1 1146.1 1115.5 1147.8 1116.9C1149.4 1118.4 1150.4 1119.4 1152.6 1119.4C1154.9 1119.4 1158.7 1118.0 1161.1 1116.9C1163.6 1115.9 1165.4 1115.7 1167.2 1113.3C1169.0 1110.9 1170.4 1106.6 1172.1 1102.4C1173.7 1098.1 1175.1 1092.6 1176.9 1087.8C1178.7 1082.9 1181.0 1077.0 1183.0 1073.2C1185.0 1069.3 1187.5 1066.3 1189.1 1064.7C1190.7 1063.1 1191.3 1062.7 1192.7 1063.5C1194.1 1064.3 1196.2 1065.7 1197.6 1069.6C1199.0 1073.4 1200.0 1082.1 1201.2 1086.6C1202.4 1091.0 1203.7 1095.9 1204.9 1096.3C1206.1 1096.7 1207.1 1091.2 1208.5 1089.0C1209.9 1086.8 1211.8 1082.3 1213.4 1082.9C1215.0 1083.5 1216.6 1090.0 1218.2 1092.6C1219.9 1095.3 1221.1 1098.5 1223.1 1098.7C1225.1 1098.9 1228.0 1096.5 1230.4 1093.9C1232.8 1091.2 1235.2 1087.0 1237.7 1082.9C1240.1 1078.9 1242.7 1073.6 1245.0 1069.6C1247.2 1065.5 1248.8 1061.3 1251.0 1058.6C1253.3 1055.9 1256.1 1053.7 1258.3 1053.3C1260.6 1052.9 1262.6 1054.3 1264.4 1056.2C1266.2 1058.1 1267.9 1060.4 1269.3 1064.7C1270.7 1068.9 1271.7 1076.0 1272.9 1081.7C1274.1 1087.4 1275.1 1092.6 1276.6 1098.7C1278.0 1104.8 1279.8 1112.1 1281.4 1118.2C1283.0 1124.2 1284.9 1129.5 1286.3 1135.2C1287.7 1140.8 1288.7 1146.5 1289.9 1152.2C1291.1 1157.8 1292.2 1163.9 1293.6 1169.2C1295.0 1174.5 1296.6 1180.1 1298.4 1183.8C1300.3 1187.4 1302.7 1190.0 1304.5 1191.1C1306.3 1192.1 1308.0 1191.9 1309.4 1189.8C1310.8 1187.8 1311.8 1181.5 1313.0 1178.9C1314.2 1176.3 1315.4 1174.7 1316.7 1174.0C1317.9 1173.4 1319.1 1174.5 1320.3 1175.3C1321.5 1176.1 1322.7 1179.5 1323.9 1178.9C1325.2 1178.3 1326.4 1175.1 1327.6 1171.6C1328.8 1168.2 1330.0 1161.0 1331.2 1158.3C1332.5 1155.5 1333.5 1155.1 1334.9 1155.3C1336.3 1155.5 1337.9 1157.4 1339.7 1159.5C1341.6 1161.6 1343.8 1164.9 1345.8 1168.0C1347.8 1171.0 1350.1 1173.4 1351.9 1177.7C1353.7 1181.9 1355.1 1187.6 1356.8 1193.5C1358.4 1199.4 1360.0 1207.7 1361.6 1212.9C1363.2 1218.2 1364.9 1222.3 1366.5 1225.1C1368.1 1227.8 1369.5 1229.9 1371.3 1229.5C1373.2 1229.0 1375.8 1226.2 1377.4 1222.6C1379.0 1219.1 1379.8 1213.3 1381.1 1208.1C1382.3 1202.8 1383.3 1194.9 1384.7 1191.1C1386.1 1187.2 1387.7 1185.7 1389.6 1185.0C1391.4 1184.3 1394.0 1186.3 1395.6 1186.7C1397.3 1187.1 1398.3 1189.1 1399.3 1187.4C1400.3 1185.7 1400.9 1179.5 1401.7 1176.5C1402.5 1173.4 1403.1 1170.6 1404.1 1169.2C1405.2 1167.8 1406.4 1166.8 1407.8 1168.0C1409.2 1169.2 1411.2 1171.8 1412.6 1176.5C1414.1 1181.1 1414.9 1189.0 1416.3 1195.9C1417.7 1202.8 1419.3 1210.5 1421.2 1217.8C1423.0 1225.1 1425.5 1232.0 1427.2 1239.7C1428.9 1247.3 1429.8 1256.1 1431.3 1263.7C1432.8 1271.4 1434.6 1278.7 1436.2 1285.6C1437.8 1292.5 1439.4 1300.6 1441.0 1305.1C1442.7 1309.5 1444.4 1311.5 1445.9 1312.3C1447.4 1313.1 1448.1 1309.9 1450.0 1309.8C1451.9 1309.8 1454.9 1310.9 1457.3 1312.3C1459.7 1313.7 1461.9 1316.9 1464.6 1318.3C1467.2 1319.8 1470.5 1321.2 1473.1 1320.8C1475.7 1320.4 1478.1 1316.1 1480.4 1315.9C1482.6 1315.7 1484.4 1316.7 1486.5 1319.6C1488.5 1322.4 1490.9 1327.9 1492.5 1332.9C1494.1 1338.0 1494.8 1345.2 1496.2 1349.9C1497.6 1354.7 1499.6 1361.2 1501.0 1361.6C1502.5 1362.0 1503.5 1356.5 1504.7 1352.4C1505.9 1348.2 1506.9 1339.8 1508.3 1336.6C1509.7 1333.3 1511.4 1333.7 1513.2 1332.9C1515.0 1332.1 1517.4 1332.9 1519.3 1331.7C1521.1 1330.5 1522.5 1328.9 1524.1 1325.6C1525.7 1322.4 1527.2 1317.1 1529.0 1312.3C1530.8 1307.4 1533.0 1301.3 1535.1 1296.5C1537.1 1291.6 1539.1 1287.2 1541.1 1283.1C1543.2 1279.1 1545.2 1276.4 1547.2 1272.2C1549.2 1267.9 1551.5 1262.5 1553.3 1257.6C1555.1 1252.7 1556.5 1248.3 1558.1 1243.0C1559.8 1237.7 1561.2 1231.5 1563.0 1226.0C1564.8 1220.5 1567.1 1215.3 1569.1 1210.2C1571.1 1205.1 1573.1 1200.3 1575.2 1195.6C1577.2 1191.0 1579.4 1186.5 1581.2 1182.3C1583.0 1178.0 1584.7 1174.6 1586.1 1170.1C1587.5 1165.7 1588.5 1159.4 1589.7 1155.5C1590.9 1151.7 1592.0 1148.8 1593.4 1147.0C1594.8 1145.3 1596.6 1145.6 1598.2 1145.1C1599.9 1144.6 1601.5 1146.2 1603.1 1144.1C1604.7 1142.0 1606.3 1135.8 1608.0 1132.4C1609.6 1129.1 1611.0 1126.4 1612.8 1123.9C1614.6 1121.5 1616.9 1120.1 1618.9 1117.9C1620.9 1115.6 1622.9 1113.4 1625.0 1110.6C1627.0 1107.7 1628.8 1103.5 1631.0 1100.9C1633.3 1098.2 1636.1 1094.6 1638.3 1094.8C1640.6 1095.0 1642.6 1099.3 1644.4 1102.1C1646.2 1104.8 1647.4 1110.9 1649.3 1111.3C1651.1 1111.7 1653.5 1107.5 1655.3 1104.5C1657.2 1101.5 1658.4 1096.1 1660.2 1093.6C1662.0 1091.0 1664.3 1089.4 1666.3 1089.4C1668.3 1089.4 1670.3 1091.9 1672.4 1093.6C1674.4 1095.3 1676.4 1098.0 1678.4 1099.6C1680.5 1101.3 1682.5 1101.5 1684.5 1103.3C1686.5 1105.1 1688.8 1107.5 1690.6 1110.6C1692.4 1113.6 1694.0 1117.3 1695.4 1121.5C1696.9 1125.8 1697.9 1131.2 1699.1 1136.1C1700.3 1140.9 1701.7 1147.6 1702.7 1150.7C1703.7 1153.7 1703.9 1154.7 1705.2 1154.3C1706.4 1153.9 1708.4 1150.5 1710.0 1148.2C1711.6 1146.0 1713.1 1142.5 1714.9 1140.9C1716.7 1139.4 1718.9 1138.6 1721.0 1139.0C1723.0 1139.4 1724.8 1141.2 1727.0 1143.4C1729.3 1145.5 1731.9 1149.7 1734.3 1151.9C1736.8 1154.1 1739.4 1156.5 1741.6 1156.7C1743.8 1156.9 1745.9 1155.3 1747.7 1153.1C1749.5 1150.9 1750.7 1145.7 1752.6 1143.4C1754.4 1141.0 1756.6 1138.6 1758.6 1139.0C1760.7 1139.4 1762.9 1142.2 1764.7 1145.8C1766.5 1149.4 1768.1 1155.5 1769.6 1160.4C1771.0 1165.2 1771.8 1170.5 1773.2 1175.0C1774.6 1179.4 1776.0 1184.5 1778.1 1187.1C1780.1 1189.8 1783.3 1189.6 1785.4 1190.8C1787.4 1192.0 1788.4 1193.2 1790.2 1194.4C1792.0 1195.6 1794.3 1198.5 1796.3 1198.1C1798.3 1197.7 1800.1 1194.8 1802.4 1192.0C1804.6 1189.1 1807.4 1183.6 1809.7 1181.0C1811.9 1178.5 1813.7 1176.9 1815.7 1176.9C1817.8 1176.9 1819.8 1179.1 1821.8 1181.0C1823.8 1182.9 1825.9 1186.6 1827.9 1188.3C1829.9 1190.0 1831.7 1191.7 1834.0 1191.3C1836.2 1190.8 1839.0 1187.2 1841.3 1185.9C1843.5 1184.6 1845.3 1183.1 1847.3 1183.5C1849.3 1183.9 1851.3 1185.7 1853.4 1188.3C1855.4 1191.0 1857.6 1196.2 1859.4 1199.3C1861.3 1202.3 1862.5 1204.9 1864.3 1206.6C1866.1 1208.3 1868.4 1209.9 1870.4 1209.5C1872.4 1209.1 1874.6 1207.0 1876.5 1204.1C1878.3 1201.2 1879.7 1196.8 1881.3 1192.0C1882.9 1187.1 1884.6 1180.6 1886.2 1175.0C1887.8 1169.3 1889.4 1162.4 1891.0 1158.0C1892.7 1153.5 1894.3 1150.3 1895.9 1148.2C1897.5 1146.2 1898.9 1145.6 1900.8 1145.8C1902.6 1146.0 1904.8 1147.0 1906.8 1149.5C1908.9 1151.9 1911.1 1156.3 1912.9 1160.4C1914.7 1164.4 1916.1 1170.1 1917.8 1173.8C1919.4 1177.4 1920.8 1180.2 1922.6 1182.3C1924.4 1184.3 1926.9 1185.9 1928.7 1185.9C1930.5 1185.9 1931.9 1184.5 1933.6 1182.3C1935.2 1180.0 1936.8 1174.6 1938.4 1172.5C1940.0 1170.5 1941.7 1169.7 1943.3 1170.1C1944.9 1170.5 1946.5 1172.1 1948.1 1175.0C1949.8 1177.8 1951.4 1183.3 1953.0 1187.1C1954.6 1191.0 1956.0 1195.4 1957.9 1198.1C1959.7 1200.7 1961.7 1202.7 1963.9 1202.9C1966.2 1203.1 1968.8 1201.1 1971.2 1199.3C1973.7 1197.4 1976.1 1194.4 1978.5 1192.0C1980.9 1189.6 1983.6 1187.3 1985.8 1184.7C1988.0 1182.1 1989.9 1178.6 1991.9 1176.2C1993.9 1173.8 1996.1 1169.9 1998.0 1170.1C1999.8 1170.3 2001.0 1174.8 2002.8 1177.4C2004.6 1180.0 2006.9 1184.8 2008.9 1185.4C2010.9 1186.0 2012.7 1183.0 2015.0 1181.0C2017.2 1179.1 2019.8 1175.8 2022.3 1173.8C2024.7 1171.7 2027.1 1170.3 2029.6 1168.9C2032.0 1167.5 2034.4 1167.1 2036.8 1165.2C2039.3 1163.4 2042.1 1159.6 2044.1 1158.0C2046.2 1156.3 2047.2 1156.3 2049.0 1155.5C2050.8 1154.7 2053.4 1154.7 2055.1 1153.1C2056.7 1151.5 2057.5 1148.6 2058.7 1145.8C2059.9 1143.0 2060.7 1139.1 2062.4 1136.1C2064.0 1133.0 2066.4 1130.4 2068.4 1127.6C2070.5 1124.7 2072.5 1122.5 2074.5 1119.1C2076.5 1115.6 2078.6 1111.2 2080.6 1106.9C2082.6 1102.7 2084.8 1096.9 2086.7 1093.6C2088.5 1090.2 2089.9 1087.0 2091.5 1087.0C2093.1 1087.0 2094.8 1090.0 2096.4 1093.6C2098.0 1097.1 2099.6 1104.5 2101.2 1108.1C2102.9 1111.8 2104.5 1114.0 2106.1 1115.4C2107.7 1116.8 2109.3 1117.7 2111.0 1116.6C2112.6 1115.6 2114.4 1111.8 2115.8 1109.4C2117.2 1106.9 2118.0 1103.7 2119.5 1102.1C2120.9 1100.4 2122.5 1099.2 2124.3 1099.6C2126.1 1100.0 2128.4 1102.8 2130.4 1104.5C2132.4 1106.2 2134.7 1110.9 2136.5 1110.1C2138.3 1109.3 2139.9 1103.0 2141.3 1099.6C2142.8 1096.3 2144.0 1091.9 2145.0 1089.9C2146.0 1088.0 2146.2 1087.4 2147.4 1088.0C2148.6 1088.6 2150.7 1090.8 2152.3 1093.6C2153.9 1096.3 2155.3 1101.3 2157.1 1104.5C2159.0 1107.7 2161.2 1110.4 2163.2 1113.0C2165.2 1115.6 2167.3 1118.6 2169.3 1120.3C2171.3 1122.0 2173.5 1123.8 2175.4 1123.2C2177.2 1122.6 2178.6 1119.6 2180.2 1116.6C2181.8 1113.7 2183.5 1109.0 2185.1 1105.7C2186.7 1102.5 2188.3 1098.9 2189.9 1097.2C2191.6 1095.5 2193.0 1094.9 2194.8 1095.3C2196.6 1095.7 2199.3 1096.9 2200.9 1099.6C2202.5 1102.4 2203.3 1106.9 2204.5 1111.8C2205.7 1116.6 2206.7 1123.5 2208.2 1128.8C2209.6 1134.1 2211.2 1138.9 2213.0 1143.4C2214.8 1147.8 2217.3 1151.1 2219.1 1155.5C2220.9 1160.0 2222.3 1165.7 2224.0 1170.1C2225.6 1174.6 2227.0 1179.4 2228.8 1182.3C2230.6 1185.1 2233.0 1186.1 2234.9 1187.1C2236.8 1188.1 2237.2 1188.1 2240.0 1188.3C2242.8 1188.6 2248.0 1188.2 2251.6 1188.5C2255.1 1188.8 2258.5 1190.6 2261.3 1190.2C2264.1 1189.8 2266.6 1188.2 2268.6 1186.1C2270.6 1184.0 2272.0 1179.2 2273.5 1177.6C2274.9 1176.0 2275.7 1175.6 2277.1 1176.4C2278.5 1177.2 2280.6 1180.8 2282.0 1182.5C2283.4 1184.1 2284.0 1186.3 2285.6 1186.1C2287.2 1185.9 2289.7 1183.3 2291.7 1181.2C2293.7 1179.2 2295.7 1176.0 2297.8 1173.9C2299.8 1171.9 2301.6 1170.3 2303.8 1169.1C2306.1 1167.9 2309.3 1168.9 2311.1 1166.7C2313.0 1164.4 2313.8 1160.8 2314.8 1155.7C2315.8 1150.7 2316.4 1141.7 2317.2 1136.3C2318.0 1130.8 2318.4 1125.8 2319.6 1122.9C2320.9 1120.1 2322.5 1120.1 2324.5 1119.3C2326.5 1118.5 2329.8 1119.3 2331.8 1118.1C2333.8 1116.8 2335.2 1114.4 2336.6 1112.0C2338.1 1109.6 2338.7 1105.4 2340.3 1103.5C2341.9 1101.5 2344.5 1101.1 2346.4 1100.3C2348.2 1099.5 2349.8 1100.7 2351.2 1098.6C2352.6 1096.5 2353.5 1090.3 2354.9 1087.7C2356.3 1085.0 2358.1 1082.4 2359.7 1082.8C2361.4 1083.2 2363.2 1086.5 2364.6 1090.1C2366.0 1093.8 2366.8 1101.2 2368.2 1104.7C2369.7 1108.1 2371.3 1109.3 2373.1 1110.8C2374.9 1112.2 2376.9 1112.0 2379.2 1113.2C2381.4 1114.4 2384.4 1118.1 2386.5 1118.1C2388.5 1118.1 2389.9 1115.0 2391.3 1113.2C2392.7 1111.4 2393.8 1108.4 2395.0 1107.1C2396.2 1105.8 2397.0 1105.0 2398.6 1105.4C2400.2 1105.8 2402.7 1108.3 2404.7 1109.6C2406.7 1110.8 2408.7 1112.2 2410.8 1113.2C2412.8 1114.2 2414.8 1114.2 2416.8 1115.6C2418.9 1117.0 2420.9 1119.5 2422.9 1121.7C2424.9 1123.9 2427.2 1127.0 2429.0 1129.0C2430.8 1131.0 2432.2 1133.5 2433.9 1133.9C2435.5 1134.2 2437.3 1131.6 2438.7 1130.9C2440.1 1130.2 2440.9 1128.8 2442.4 1129.7C2443.8 1130.6 2445.6 1134.4 2447.2 1136.3C2448.8 1138.2 2450.5 1141.5 2452.1 1141.1C2453.7 1140.7 2455.5 1137.1 2456.9 1133.9C2458.4 1130.6 2459.2 1124.9 2460.6 1121.7C2462.0 1118.5 2463.8 1116.8 2465.4 1114.4C2467.1 1112.0 2468.9 1110.8 2470.3 1107.1C2471.7 1103.5 2472.7 1097.0 2473.9 1092.5C2475.2 1088.1 2476.2 1083.0 2477.6 1080.4C2479.0 1077.8 2480.6 1076.5 2482.5 1076.7C2484.3 1076.9 2486.5 1079.8 2488.5 1081.6C2490.6 1083.4 2492.6 1086.4 2494.6 1087.7C2496.6 1089.0 2498.7 1089.2 2500.7 1089.4C2502.7 1089.6 2504.5 1088.0 2506.8 1088.9C2509.0 1089.8 2511.6 1093.1 2514.0 1095.0C2516.5 1096.8 2519.1 1099.6 2521.3 1099.8C2523.6 1100.0 2525.8 1098.6 2527.4 1096.2C2529.0 1093.8 2529.8 1087.6 2531.1 1085.2C2532.3 1082.9 2533.3 1081.5 2534.7 1082.3C2536.1 1083.1 2538.1 1085.6 2539.6 1090.1C2541.0 1094.6 2542.0 1101.4 2543.2 1109.6C2544.4 1117.7 2545.6 1127.8 2546.9 1138.7C2548.1 1149.6 2549.3 1163.0 2550.5 1175.2C2551.7 1187.3 2552.9 1200.7 2554.1 1211.6C2555.4 1222.6 2556.4 1232.7 2557.8 1240.8C2559.2 1248.9 2561.0 1255.4 2562.6 1260.2C2564.3 1265.1 2566.1 1268.0 2567.5 1269.9C2568.9 1271.9 2569.9 1273.5 2571.2 1271.9C2572.4 1270.3 2573.8 1266.2 2574.8 1260.2C2575.8 1254.2 2576.2 1244.0 2577.2 1235.9C2578.2 1227.8 2579.7 1218.5 2580.9 1211.6C2582.1 1204.7 2583.1 1199.3 2584.5 1194.6C2585.9 1189.9 2587.8 1186.0 2589.4 1183.7C2591.0 1181.4 2592.4 1180.3 2594.2 1180.8C2596.1 1181.2 2598.5 1183.6 2600.3 1186.1C2602.1 1188.6 2603.4 1193.2 2605.2 1195.8C2607.0 1198.5 2609.3 1201.6 2611.3 1201.9C2613.2 1202.2 2615.2 1198.5 2616.7 1197.7C2618.3 1196.8 2618.8 1196.7 2620.4 1196.9C2622.0 1197.2 2624.6 1197.1 2626.5 1199.4C2628.3 1201.6 2629.9 1206.1 2631.3 1210.3C2632.7 1214.6 2633.7 1220.0 2635.0 1224.9C2636.2 1229.7 2637.4 1235.0 2638.6 1239.5C2639.8 1243.9 2641.0 1249.0 2642.2 1251.6C2643.5 1254.2 2644.6 1256.1 2645.9 1255.3C2647.2 1254.5 2648.8 1251.4 2650.0 1246.8C2651.2 1242.1 2652.1 1234.6 2652.9 1227.3C2653.8 1220.0 2654.5 1211.1 2655.1 1203.0C2655.8 1194.9 2656.3 1186.8 2656.8 1178.7C2657.4 1170.6 2657.8 1162.5 2658.3 1154.4C2658.7 1146.3 2659.1 1138.2 2659.5 1130.1C2659.9 1122.0 2660.3 1113.9 2660.7 1105.8C2661.1 1097.7 2661.5 1089.6 2661.9 1081.5C2662.3 1073.4 2662.8 1065.3 2663.1 1057.2C2663.5 1049.1 2663.8 1041.0 2664.1 1032.9C2664.4 1024.8 2664.8 1016.7 2665.1 1008.6C2665.4 1000.5 2665.4 994.6 2665.8 984.5C2666.3 974.4 2667.0 960.2 2667.8 948.1C2668.5 935.9 2669.4 923.8 2670.2 911.6C2671.0 899.5 2671.8 887.3 2672.6 875.2C2673.4 863.0 2674.3 850.9 2675.1 838.7C2675.8 826.6 2676.3 814.4 2677.0 802.3C2677.7 790.1 2678.5 775.1 2679.4 765.8C2680.3 756.5 2681.3 750.4 2682.3 746.4C2683.4 742.3 2684.3 741.1 2685.5 741.5C2686.7 741.9 2688.3 744.7 2689.6 748.8C2690.9 752.8 2692.1 759.7 2693.3 765.8C2694.5 771.9 2695.7 778.8 2696.9 785.2C2698.1 791.7 2699.4 798.9 2700.6 804.7C2701.7 810.4 2702.5 817.1 2703.7 819.8C2704.9 822.4 2706.6 821.8 2707.9 820.5C2709.2 819.2 2710.3 817.0 2711.5 812.0C2712.7 806.9 2714.1 797.8 2715.2 790.1C2716.2 782.4 2716.8 773.9 2717.6 765.8C2718.4 757.7 2719.1 749.6 2720.0 741.5C2720.9 733.4 2722.4 723.0 2723.2 717.2C2724.0 711.4 2723.8 712.5 2724.9 706.7C2726.0 700.9 2728.3 690.5 2729.7 682.4C2731.2 674.3 2732.4 666.2 2733.4 658.1C2734.4 650.0 2735.0 641.9 2735.8 633.8C2736.6 625.7 2737.3 617.6 2738.2 609.5C2739.1 601.4 2740.3 593.3 2741.2 585.2C2742.0 577.1 2742.8 569.0 2743.6 560.9C2744.4 552.8 2745.2 544.7 2746.0 536.6C2746.8 528.5 2747.6 520.4 2748.4 512.3C2749.3 504.2 2750.1 496.1 2750.9 488.0C2751.7 479.9 2752.4 471.4 2753.3 463.7C2754.2 456.0 2755.3 447.5 2756.5 441.8C2757.6 436.1 2758.6 432.5 2760.1 429.6C2761.6 426.8 2763.8 424.4 2765.5 424.8C2767.2 425.2 2769.0 428.4 2770.3 432.1C2771.7 435.7 2772.4 441.0 2773.5 446.6C2774.5 452.3 2775.4 460.4 2776.6 466.1C2777.8 471.8 2779.3 476.2 2780.8 480.7C2782.3 485.1 2784.0 489.2 2785.6 492.8C2787.2 496.5 2788.9 499.3 2790.5 502.5C2792.1 505.8 2793.5 509.8 2795.3 512.3C2797.2 514.7 2799.6 517.5 2801.4 517.1C2803.2 516.7 2805.1 514.7 2806.3 509.8C2807.5 505.0 2807.8 495.7 2808.7 488.0C2809.6 480.3 2810.6 471.8 2811.6 463.7C2812.6 455.6 2813.7 447.5 2814.8 439.4C2815.8 431.3 2816.9 421.1 2817.9 415.1C2819.0 409.0 2820.0 405.3 2820.9 402.9C2821.8 400.6 2822.3 400.6 2823.3 401.0C2824.3 401.4 2825.9 401.8 2826.9 405.3C2828.0 408.9 2828.4 415.5 2829.4 422.3C2830.4 429.2 2831.8 439.0 2833.0 446.6C2834.2 454.3 2835.4 461.6 2836.7 468.5C2837.9 475.4 2839.1 481.5 2840.3 488.0C2841.5 494.4 2842.7 501.3 2843.9 507.4C2845.2 513.5 2846.4 519.1 2847.6 524.4C2848.8 529.7 2850.0 534.5 2851.2 539.0C2852.5 543.4 2853.5 547.1 2854.9 551.1C2856.3 555.2 2858.1 559.9 2859.7 563.3C2861.4 566.7 2863.0 570.0 2864.6 571.8C2866.2 573.6 2867.8 574.6 2869.5 574.2C2871.1 573.8 2872.7 570.5 2874.3 569.4C2875.9 568.3 2877.4 567.1 2879.2 567.7C2881.0 568.3 2883.4 570.1 2885.3 573.0C2887.1 575.9 2888.7 580.7 2890.1 585.2C2891.5 589.6 2892.7 594.5 2893.8 599.7C2894.9 605.0 2895.9 610.7 2896.7 616.8C2897.5 622.8 2898.0 629.7 2898.6 636.2C2899.3 642.7 2899.8 649.2 2900.6 655.6C2901.3 662.1 2902.1 669.0 2903.0 675.1C2903.9 681.2 2904.6 687.5 2905.9 692.1C2907.2 696.7 2909.2 698.4 2910.8 702.6C2912.4 706.8 2914.2 711.5 2915.6 717.2C2917.1 722.9 2918.1 730.2 2919.3 736.6C2920.5 743.1 2921.7 750.0 2922.9 756.1C2924.1 762.2 2925.4 767.8 2926.6 773.1C2927.8 778.4 2929.1 783.6 2930.2 787.7C2931.4 791.7 2932.9 795.8 2933.4 797.4" stroke="#EE403A"/>
</g>
<line x1="302.6" y1="340.8" x2="302.6" y2="1938.9" stroke="#888" stroke-width="2.6"/>
<rect x="330.5" y="375.5" width="471" height="307" fill="#fff" stroke="#000" stroke-width="3"/>
<text transform="translate(474.35 230.30) scale(0.9654 1)" font-size="183.72" fill="#000">Underlying</text>
<text transform="translate(1437.79 230.30) scale(0.9931 1)" font-size="183.72" fill="#000">Inflation</text>
<text transform="translate(2191.66 230.30) scale(0.9553 1)" font-size="183.72" fill="#000">Index</text>
<text transform="translate(64.97 374.33) scale(0.9851 1)" font-size="102.33" fill="#000">7</text>
<text transform="translate(121.29 374.33) scale(0.8689 1)" font-size="102.33" fill="#000">%</text>
<text transform="translate(64.29 533.84) scale(0.9906 1)" font-size="102.33" fill="#000">6</text>
<text transform="translate(121.29 533.84) scale(0.8689 1)" font-size="102.33" fill="#000">%</text>
<text transform="translate(66.63 693.35) scale(0.9133 1)" font-size="102.33" fill="#000">5</text>
<text transform="translate(121.29 693.35) scale(0.8689 1)" font-size="102.33" fill="#000">%</text>
<text transform="translate(64.01 852.86) scale(0.9633 1)" font-size="102.33" fill="#000">4</text>
<text transform="translate(121.29 852.86) scale(0.8689 1)" font-size="102.33" fill="#000">%</text>
<text transform="translate(66.91 1012.37) scale(0.9319 1)" font-size="102.33" fill="#000">3</text>
<text transform="translate(121.29 1012.37) scale(0.8689 1)" font-size="102.33" fill="#000">%</text>
<text transform="translate(65.69 1171.88) scale(0.9621 1)" font-size="102.33" fill="#000">2</text>
<text transform="translate(121.29 1171.88) scale(0.8689 1)" font-size="102.33" fill="#000">%</text>
<text transform="translate(65.98 1331.39) scale(0.9346 1)" font-size="102.33" fill="#000">1</text>
<text transform="translate(121.29 1331.39) scale(0.8689 1)" font-size="102.33" fill="#000">%</text>
<text transform="translate(62.84 1490.90) scale(1.0274 1)" font-size="102.33" fill="#000">0</text>
<text transform="translate(121.29 1490.90) scale(0.8689 1)" font-size="102.33" fill="#000">%</text>
<text transform="translate(65.98 1650.41) scale(0.9346 1)" font-size="102.33" fill="#FF0000">1</text>
<text transform="translate(121.29 1650.41) scale(0.8689 1)" font-size="102.33" fill="#FF0000">%</text>
<text transform="translate(29.69 1650.41) scale(1.0777 1)" font-size="102.33" fill="#FF0000">-</text>
<text transform="translate(65.69 1809.92) scale(0.9621 1)" font-size="102.33" fill="#FF0000">2</text>
<text transform="translate(121.29 1809.92) scale(0.8689 1)" font-size="102.33" fill="#FF0000">%</text>
<text transform="translate(29.69 1809.92) scale(1.0777 1)" font-size="102.33" fill="#FF0000">-</text>
<text transform="translate(66.91 1969.43) scale(0.9319 1)" font-size="102.33" fill="#FF0000">3</text>
<text transform="translate(121.29 1969.43) scale(0.8689 1)" font-size="102.33" fill="#FF0000">%</text>
<text transform="translate(29.69 1969.43) scale(1.0777 1)" font-size="102.33" fill="#FF0000">-</text>
<text transform="translate(196.42 2113.00) scale(0.9823 1)" font-size="102.33" fill="#000">2000</text>
<text transform="translate(529.42 2113.00) scale(0.9801 1)" font-size="102.33" fill="#000">2003</text>
<text transform="translate(862.42 2113.00) scale(0.9801 1)" font-size="102.33" fill="#000">2006</text>
<text transform="translate(1195.42 2113.00) scale(0.9805 1)" font-size="102.33" fill="#000">2009</text>
<text transform="translate(1528.42 2113.00) scale(0.9818 1)" font-size="102.33" fill="#000">2012</text>
<text transform="translate(1861.44 2113.00) scale(0.9763 1)" font-size="102.33" fill="#000">2015</text>
<text transform="translate(2194.43 2113.00) scale(0.9776 1)" font-size="102.33" fill="#000">2018</text>
<text transform="translate(2527.44 2113.00) scale(0.9763 1)" font-size="102.33" fill="#000">2021</text>
<text transform="translate(2860.47 2113.00) scale(0.9663 1)" font-size="102.33" fill="#000">2024</text>
<text transform="translate(407.86 499.30) scale(0.9102 1)" font-size="100.87" fill="#1EA2A7">Full Set</text>
<text transform="translate(382.69 633.30) scale(0.8971 1)" font-size="100.87" fill="#EE403A">Core CPI</text>
</svg></body></html>
